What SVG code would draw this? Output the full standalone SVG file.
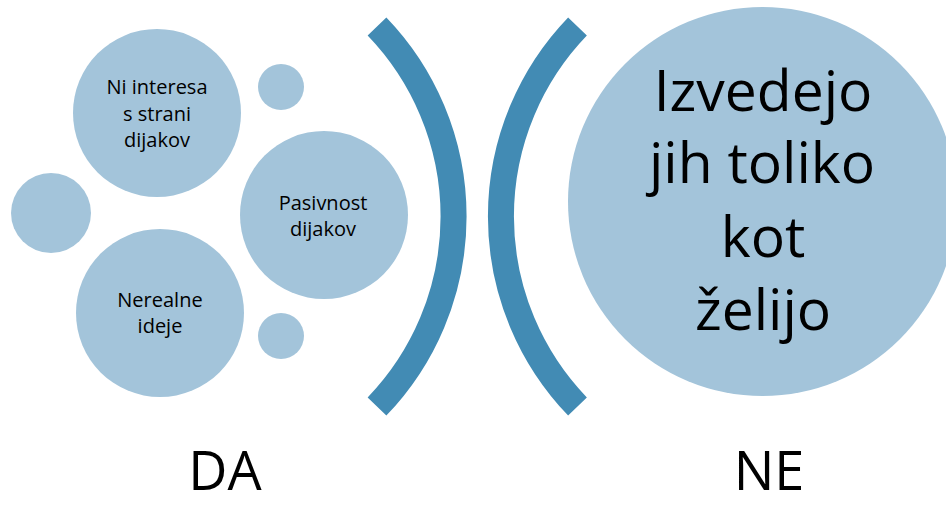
<svg xmlns="http://www.w3.org/2000/svg" width="946" height="507" viewBox="0 0 946 507">
<style>
.c{fill:#A3C4DA}
.b{fill:none;stroke:#428BB4;stroke-width:26;stroke-linecap:butt}
text{font-family:"Open Sans","Noto Sans",sans-serif;fill:#000;text-anchor:middle}
.s{font-size:20px}
.l{font-size:57px}
.h{font-size:54px}
</style>
<rect width="946" height="507" fill="#fff"/>
<g id="brackets">
<path class="b" d="M377 26.5 A274 274 0 0 1 377 406.5"/>
<path class="b" d="M577.5 26.5 A274 274 0 0 0 577.5 406.5"/>
</g>
<g id="n1"><circle class="c" cx="157" cy="113" r="84"/><text class="s" x="157" y="94">Ni interesa</text><text class="s" x="157" y="121">s strani</text><text class="s" x="157" y="147">dijakov</text></g>
<g id="n2"><circle class="c" cx="281" cy="87" r="23"/></g>
<g id="n3"><circle class="c" cx="51" cy="213" r="40"/></g>
<g id="n4"><circle class="c" cx="324" cy="215" r="84"/><text class="s" x="323" y="210">Pasivnost</text><text class="s" x="323" y="236">dijakov</text></g>
<g id="n5"><circle class="c" cx="160" cy="313" r="84"/><text class="s" x="160" y="307">Nerealne</text><text class="s" x="160" y="333">ideje</text></g>
<g id="n6"><circle class="c" cx="281" cy="336" r="23"/></g>
<g id="n7"><circle class="c" cx="762.5" cy="201.5" r="194.5"/>
<text class="l" x="763" y="111">Izvedejo</text>
<text class="l" x="762" y="183">jih toliko</text>
<text class="l" x="763" y="257">kot</text>
<text class="l" x="763" y="330">želijo</text></g>
<g id="labels"><text class="h" x="225" y="490">DA</text><text class="h" x="769" y="490">NE</text></g>
</svg>
